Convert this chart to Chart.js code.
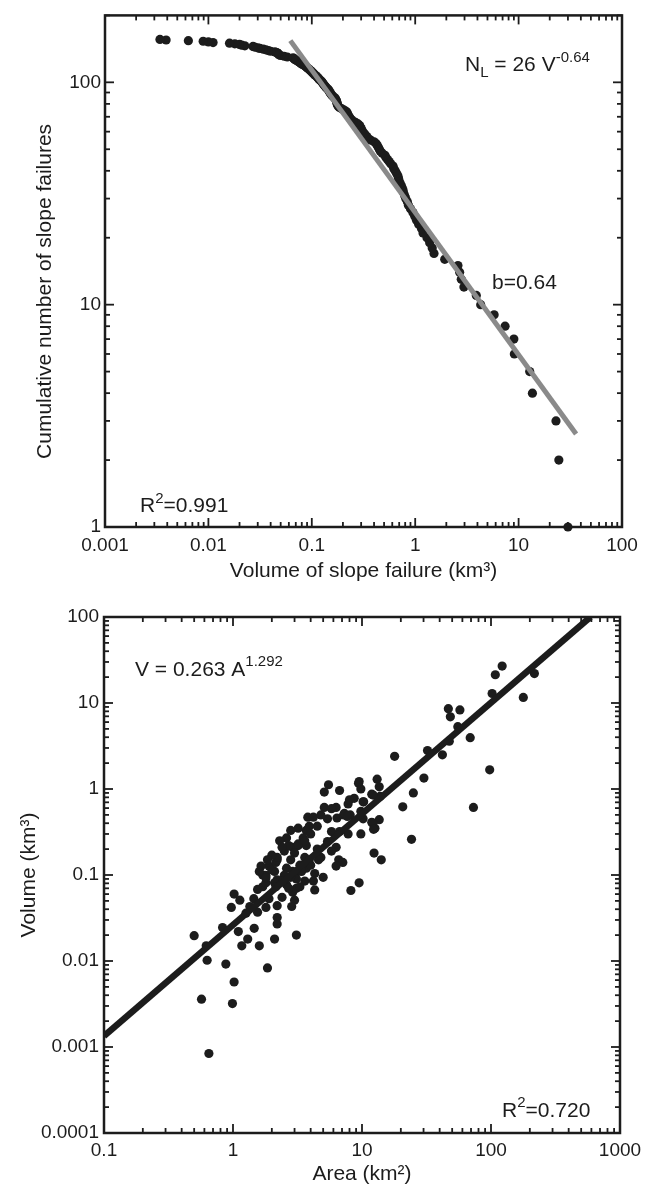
<!DOCTYPE html>
<html>
<head>
<meta charset="utf-8">
<script src="https://cdn.jsdelivr.net/npm/chart.js@4.4.1/dist/chart.umd.min.js"></script>
<style>
  html, body { margin: 0; padding: 0; background: #fff; }
  #wrap { position: relative; width: 651px; height: 1191px; }
  .box { position: absolute; left: 0; width: 651px; }
  #box1 { top: 0; height: 600px; }
  #box2 { top: 600px; height: 591px; }
</style>
</head>
<body>
<div id="wrap">
  <div class="box" id="box1"><canvas id="c1"></canvas></div>
  <div class="box" id="box2"><canvas id="c2"></canvas></div>
</div>
<script>
// --- top panel: slope failure volumes (km3), largest first ---
const failVol = [
  30, 24.5, 23, 13.6, 12.8, 9.1, 9.0, 7.4, 5.8, 4.3,
  3.9, 2.96, 2.79, 2.69, 2.59, 1.93, 1.52, 1.46, 1.38, 1.30,
  1.19, 1.15, 1.08, 1.03, 0.99, 0.95, 0.90, 0.86, 0.84, 0.81,
  0.79, 0.77, 0.76, 0.74, 0.72, 0.70, 0.69, 0.68, 0.66, 0.64,
  0.62, 0.61, 0.58, 0.56, 0.54, 0.52, 0.51, 0.48, 0.46, 0.45,
  0.44, 0.43, 0.42, 0.40, 0.37, 0.35, 0.34, 0.33, 0.32, 0.31,
  0.305, 0.30, 0.295, 0.29, 0.28, 0.265, 0.25, 0.24, 0.235, 0.23,
  0.225, 0.222, 0.22, 0.215, 0.205, 0.195, 0.185, 0.18, 0.178, 0.176,
  0.175, 0.174, 0.172, 0.17, 0.168, 0.163, 0.158, 0.155, 0.152, 0.15,
  0.148, 0.146, 0.144, 0.14, 0.137, 0.135, 0.132, 0.13, 0.128, 0.126,
  0.124, 0.121, 0.118, 0.116, 0.114, 0.112, 0.11, 0.107, 0.105, 0.103,
  0.101, 0.099, 0.097, 0.095, 0.093, 0.091, 0.089, 0.087, 0.085, 0.082,
  0.08, 0.078, 0.076, 0.074, 0.072, 0.07, 0.068, 0.067, 0.066, 0.058,
  0.054, 0.05, 0.048, 0.047, 0.047, 0.046, 0.044, 0.04, 0.038, 0.036,
  0.034, 0.0315, 0.03, 0.028, 0.027, 0.0225, 0.021, 0.020, 0.018, 0.016,
  0.0111, 0.0100, 0.0089, 0.0064, 0.0039, 0.0034
];
// fitted power law N_L = 26 V^-0.64, end points as drawn
const fitVol = [0.062, 36];
const fitN = [154, 2.62];

const topXTicks = [0.001, 0.01, 0.1, 1, 10, 100];
const topXLabels = ['0.001', '0.01', '0.1', '1', '10', '100'];
const topYTicks = [1, 10, 100];
const topYLabels = ['1', '10', '100'];

// --- bottom panel: area (km2) vs volume (km3) ---
const areaVals = [
  122, 108, 217, 102, 178, 46.7, 57.4, 48.4, 55.3, 69,
  47.5, 32.2, 42, 17.9, 97.7, 30.2, 73.1, 20.7, 25, 24.2,
  13.1, 13.6, 9.4, 9.8, 11.9, 13.8, 10.3, 8.7, 7.8, 6.7,
  5.5, 5.1, 6.3, 5.1, 5.8, 5.4, 6.4, 7.2, 8.1, 9.8,
  10.2, 13.6, 11.9, 12.6, 12.4, 14.1, 9.5, 8.2, 9.8, 7.8,
  6.7, 5.8, 5.4, 6.3, 5.8, 6.6, 7.1, 6.3, 4.8, 4.5,
  3.8, 4.2, 3.7, 3.5, 3.2, 3.7, 2.9, 3.0, 3.6, 3.9,
  3.3, 2.8, 2.5, 2.2, 2.6, 2.9, 3.2, 3.7, 4.3, 5.0,
  4.2, 4.3, 3.6, 3.1, 2.8, 2.5, 2.2, 2.1, 2.1, 1.9,
  1.8, 1.7, 1.8, 2.15, 2.6, 2.9, 3.1, 3.0, 2.85, 3.1,
  2.2, 2.2, 2.2, 2.1, 1.85, 1.8, 1.55, 1.46, 1.6, 1.3,
  1.26, 1.17, 1.1, 1.13, 1.02, 0.97, 0.83, 0.88, 1.02, 0.99,
  0.57, 0.5, 0.62, 0.63, 0.65, 1.7, 2.0, 2.15, 2.2, 2.7,
  3.2, 3.6, 4.0, 4.8, 4.5, 3.9, 3.2, 2.8, 2.6, 2.3,
  2.4, 2.0, 1.85, 1.65, 1.6, 1.8, 2.45, 2.7, 3.3, 3.4,
  4.0, 4.6, 1.55, 1.45, 1.9, 2.4, 1.35, 12.2, 12.1, 12.3,
  8.0, 7.3, 7.7, 10.2, 9.5
];
const volVals = [
  26.9, 21.3, 22, 12.9, 11.6, 8.6, 8.3, 6.9, 5.3, 3.95,
  3.6, 2.8, 2.5, 2.4, 1.67, 1.34, 0.61, 0.62, 0.9, 0.26,
  1.3, 1.06, 1.17, 1.0, 0.87, 0.82, 0.71, 0.78, 0.67, 0.96,
  1.12, 0.92, 0.61, 0.61, 0.59, 0.45, 0.46, 0.5, 0.5, 0.55,
  0.45, 0.44, 0.41, 0.35, 0.18, 0.15, 0.081, 0.066, 0.30, 0.30,
  0.32, 0.32, 0.245, 0.21, 0.19, 0.15, 0.14, 0.127, 0.16, 0.2,
  0.47, 0.47, 0.33, 0.27, 0.22, 0.22, 0.21, 0.18, 0.16, 0.15,
  0.13, 0.15, 0.19, 0.15, 0.12, 0.11, 0.11, 0.12, 0.104, 0.094,
  0.085, 0.067, 0.085, 0.09, 0.094, 0.099, 0.088, 0.081, 0.11, 0.127,
  0.099, 0.073, 0.081, 0.073, 0.077, 0.063, 0.07, 0.051, 0.043, 0.020,
  0.044, 0.032, 0.027, 0.018, 0.0083, 0.042, 0.037, 0.024, 0.015, 0.018,
  0.036, 0.015, 0.022, 0.051, 0.06, 0.042, 0.0245, 0.0092, 0.0057, 0.0032,
  0.0036, 0.0197, 0.015, 0.0102, 0.00084, 0.1, 0.115, 0.14, 0.16, 0.22,
  0.23, 0.25, 0.30, 0.5, 0.37, 0.37, 0.35, 0.33, 0.27, 0.25,
  0.21, 0.17, 0.15, 0.127, 0.11, 0.093, 0.085, 0.07, 0.073, 0.11,
  0.13, 0.15, 0.068, 0.053, 0.053, 0.055, 0.043, 0.85, 0.40, 0.34,
  0.75, 0.52, 0.48, 0.71, 1.22
];
// drawn regression line end points
const trendArea = [0.1, 590];
const trendVol = [0.00134, 100];

const botXTicks = [0.1, 1, 10, 100, 1000];
const botXLabels = ['0.1', '1', '10', '100', '1000'];
const botYTicks = [0.0001, 0.001, 0.01, 0.1, 1, 10, 100];
const botYLabels = ['0.0001', '0.001', '0.01', '0.1', '1', '10', '100'];

const FONT = "'Liberation Sans', Arial, Helvetica, sans-serif";
const INK = '#1c1c1c';
Chart.defaults.font.family = FONT;
Chart.defaults.color = INK;

// decade + 2..9 minor ticks for a log axis
function logTicks(decades, min, max) {
  const out = [];
  decades.forEach(d => {
    for (let m = 1; m <= 9; m++) {
      const v = +(d * m).toPrecision(3);
      if (v >= min * 0.999 && v <= max * 1.001) out.push({ value: v, major: m === 1 });
    }
  });
  return out;
}

function line(ctx, x1, y1, x2, y2) {
  ctx.beginPath(); ctx.moveTo(x1, y1); ctx.lineTo(x2, y2); ctx.stroke();
}

// box frame with inward ticks on all four sides
const frameTicks = {
  id: 'frameTicks',
  beforeDatasetsDraw(chart, args, o) {
    const { ctx, chartArea: a, scales: { x, y } } = chart;
    ctx.save();
    ctx.strokeStyle = INK;
    ctx.lineWidth = o.tickWidth;
    x.ticks.forEach(t => {
      const px = x.getPixelForValue(t.value);
      const len = t.major ? o.major : o.minor;
      line(ctx, px, a.bottom, px, a.bottom - len);
      line(ctx, px, a.top, px, a.top + len);
    });
    y.ticks.forEach(t => {
      const py = y.getPixelForValue(t.value);
      const len = t.major ? o.major : o.minor;
      line(ctx, a.left, py, a.left + len, py);
      line(ctx, a.right, py, a.right - len, py);
    });
    ctx.lineWidth = o.frameWidth;
    ctx.strokeRect(a.left, a.top, a.right - a.left, a.bottom - a.top);
    ctx.restore();
  }
};

// text with sub/superscripts; optionally rotated and centred on (x, y)
function drawRich(ctx, x, y, parts, opt = {}) {
  const size = opt.size || 21;
  const fontOf = p => ((p.sup || p.sub) ? 15 : size) + 'px ' + FONT;
  ctx.save();
  ctx.fillStyle = INK;
  ctx.textBaseline = 'middle';
  ctx.textAlign = 'left';
  if (opt.rotate) {
    let w = 0;
    parts.forEach(p => { ctx.font = fontOf(p); w += ctx.measureText(p.t).width; });
    ctx.translate(x, y);
    ctx.rotate(-Math.PI / 2);
    x = -w / 2; y = 0;
  }
  parts.forEach(p => {
    ctx.font = fontOf(p);
    const dy = p.sup ? -8 : p.sub ? 7 : 0;
    ctx.fillText(p.t, x, y + dy);
    x += ctx.measureText(p.t).width;
  });
  ctx.restore();
}

const notes = {
  id: 'notes',
  afterDraw(chart, args, o) {
    const a = chart.chartArea;
    (o.items || []).forEach(it =>
      drawRich(chart.ctx, a.left + it.dx, a.top + it.dy, it.parts, it));
  }
};

function logAxis(cfg) {
  return {
    type: 'logarithmic',
    min: cfg.min,
    max: cfg.max,
    afterBuildTicks: s => { s.ticks = logTicks(cfg.majors, cfg.min, cfg.max); },
    afterFit: s => { if (cfg.width) s.width = cfg.width; if (cfg.height) s.height = cfg.height; },
    grid: { display: false, drawTicks: false },
    border: { display: false },
    ticks: {
      autoSkip: false, maxRotation: 0, minRotation: 0, padding: cfg.pad,
      font: { size: 19 }, color: INK,
      callback: v => { const i = cfg.majors.indexOf(v); return i >= 0 ? cfg.labels[i] : ''; }
    },
    title: {
      display: !!cfg.title, text: cfg.title || '', font: { size: 21 }, color: INK,
      padding: cfg.titlePad || 0
    }
  };
}

// cumulative number of failures at least as large as each volume
const failCum = failVol.map(v => failVol.filter(w => w >= v).length);

new Chart(document.getElementById('c1'), {
  type: 'scatter',
  data: {
    datasets: [
      {
        type: 'line', data: fitVol.map((v, i) => ({ x: v, y: fitN[i] })),
        borderColor: '#8a8a8a', borderWidth: 5, pointRadius: 0, order: 0
      },
      {
        data: failVol.map((v, i) => ({ x: v, y: failCum[i] })),
        backgroundColor: INK, pointRadius: 4.6, borderWidth: 0, clip: false, order: 1
      }
    ]
  },
  options: {
    responsive: true, maintainAspectRatio: false, animation: false, devicePixelRatio: 1,
    layout: { padding: { left: 0, top: 10, right: 29, bottom: 0 } },
    plugins: {
      legend: { display: false }, tooltip: { enabled: false },
      frameTicks: { major: 9, minor: 5, tickWidth: 1.8, frameWidth: 2.5 },
      notes: {
        items: [
          { dx: 360, dy: 50, parts: [{ t: 'N' }, { t: 'L', sub: true }, { t: ' = 26 V' }, { t: '-0.64', sup: true }] },
          { dx: 387, dy: 268, parts: [{ t: 'b=0.64' }] },
          { dx: 35, dy: 491, parts: [{ t: 'R' }, { t: '2', sup: true }, { t: '=0.991' }] },
          { dx: -60, dy: 276, rotate: true, parts: [{ t: 'Cumulative number of slope failures' }] }
        ]
      }
    },
    scales: {
      x: logAxis({ min: 0.001, max: 100, majors: topXTicks, labels: topXLabels, height: 73, pad: 7,
        title: 'Volume of slope failure (km³)', titlePad: { top: 0, bottom: 16 } }),
      y: logAxis({ min: 1, max: 200, majors: topYTicks, labels: topYLabels, width: 105, pad: 4 })
    }
  },
  plugins: [frameTicks, notes]
});

new Chart(document.getElementById('c2'), {
  type: 'scatter',
  data: {
    datasets: [
      {
        type: 'line', data: trendArea.map((v, i) => ({ x: v, y: trendVol[i] })),
        borderColor: INK, borderWidth: 6.5, pointRadius: 0, order: 0
      },
      {
        data: areaVals.map((v, i) => ({ x: v, y: volVals[i] })),
        backgroundColor: INK, pointRadius: 4.6, borderWidth: 0, order: 1
      }
    ]
  },
  options: {
    responsive: true, maintainAspectRatio: false, animation: false, devicePixelRatio: 1,
    layout: { padding: { left: 0, top: 17, right: 31, bottom: 0 } },
    plugins: {
      legend: { display: false }, tooltip: { enabled: false },
      frameTicks: { major: 9, minor: 5, tickWidth: 1.8, frameWidth: 2.5 },
      notes: {
        items: [
          { dx: 31, dy: 53, parts: [{ t: 'V = 0.263 A' }, { t: '1.292', sup: true }] },
          { dx: 398, dy: 494, parts: [{ t: 'R' }, { t: '2', sup: true }, { t: '=0.720' }] }
        ]
      }
    },
    scales: {
      x: logAxis({ min: 0.1, max: 1000, majors: botXTicks, labels: botXLabels, height: 58, pad: 6,
        title: 'Area (km²)', titlePad: { top: 0, bottom: 4 } }),
      y: logAxis({ min: 0.0001, max: 100, majors: botYTicks, labels: botYLabels, width: 104, pad: 5,
        title: 'Volume (km³)', titlePad: { top: 17, bottom: 0 } })
    }
  },
  plugins: [frameTicks, notes]
});
</script>
</body>
</html>
